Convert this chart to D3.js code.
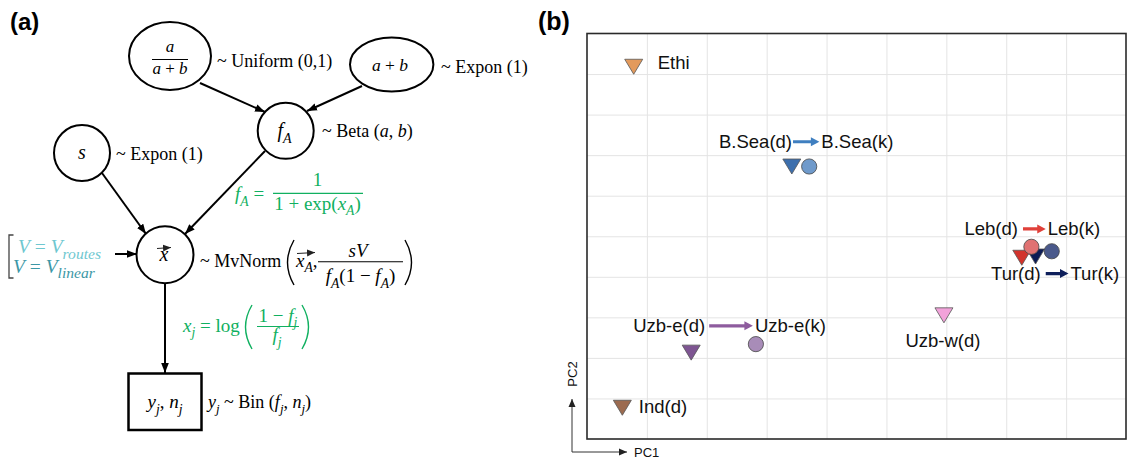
<!DOCTYPE html>
<html><head><meta charset="utf-8">
<script src="https://cdn.jsdelivr.net/npm/d3@7"></script>
<style>
html,body{margin:0;padding:0;background:#fff;}
svg{display:block;}
text{white-space:pre;}
</style></head>
<body>
<svg id="fig" width="1127" height="462"></svg>
<script>
// ---------------- Panel (b) data ----------------
const populations = ["Ethi","Ind(d)","Uzb-e(d)","Uzb-e(k)","B.Sea(d)","B.Sea(k)","Uzb-w(d)","Leb(d)","Tur(d)","Leb(k)","Tur(k)"];
const pc1 = [0.78, 0.59, 1.74, 2.82, 3.42, 3.71, 5.96, 7.26, 7.49, 7.42, 7.76];
const pc2 = [9.18, 0.77, 2.13, 2.34, 6.72, 6.72, 3.05, 4.47, 4.50, 4.74, 4.63];
const sampleType = ["d","d","d","k","d","k","d","d","d","k","k"]; // d = triangle, k = circle
const xTicks = [1,2,3,4,5,6,7,8];
const yTicks = [1,2,3,4,5,6,7,8,9];
// arrows "(d) -> (k)" annotations, in PC units
const pairFrom = ["B.Sea(d)","Uzb-e(d)","Leb(d)","Tur(d)"];
const pairTo   = ["B.Sea(k)","Uzb-e(k)","Leb(k)","Tur(k)"];
const pairX1 = [3.44, 2.04, 7.28, 7.66];
const pairX2 = [3.88, 2.77, 7.66, 8.04];
const pairY  = [7.33, 2.79, 5.18, 4.08];
const singleLabels = ["Ethi","Ind(d)","Uzb-w(d)"];

// styles
const fillColor = {
  "Ethi":"#E39A5C","Ind(d)":"#9C6B50","Uzb-e(d)":"#7E5592","Uzb-e(k)":"#A88CB8",
  "B.Sea(d)":"#3D6FAD","B.Sea(k)":"#6F9ACB","Uzb-w(d)":"#F2A2DA","Leb(d)":"#D2332C",
  "Tur(d)":"#0C1B55","Leb(k)":"#E07272","Tur(k)":"#4A598B"
};
const arrowColor = ["#3F7FC0","#8E5C9E","#E0403A","#0E1F5B"];

// ---------------- Panel (a) content ----------------
const serif = "'Liberation Serif','Times New Roman',serif";
const sans = "'Liberation Sans',Arial,sans-serif";
const green = "#10B060";
const tealLight = "#6EC7D0";
const tealDark = "#3C97A6";

const svg = d3.select("#fig");

// panel labels
svg.append("text").attr("x",10).attr("y",29.5).attr("font-family",sans).attr("font-weight","bold").attr("font-size",24).text("(a)");
svg.append("text").attr("x",538).attr("y",29.5).attr("font-family",sans).attr("font-weight","bold").attr("font-size",25).text("(b)");

// math text helper: parts = [[string, style]], style: r, i, sr, si
function mtext(parent, x, y, parts, opt={}) {
  const size = opt.size || 18;
  const subScale = opt.sub || 0.72;
  const t = parent.append("text").attr("x",x).attr("y",y)
    .attr("font-family",serif).attr("font-size",size)
    .attr("text-anchor",opt.anchor||"start").attr("fill",opt.fill||"#000");
  let shifted = 0;
  parts.forEach(([s, st]) => {
    const ts = t.append("tspan").text(s);
    const sub = st.startsWith("s");
    if (st.endsWith("i")) ts.attr("font-style","italic");
    const target = sub ? size*0.3 : 0;
    if (target !== shifted) { ts.attr("dy", target - shifted); shifted = target; }
    if (sub) ts.attr("font-size", size*subScale);
  });
  return t;
}

const A = svg.append("g");
// markers
const defs = svg.append("defs");
defs.append("marker").attr("id","ah").attr("viewBox","0 -4 10 8").attr("refX",10).attr("refY",0)
  .attr("markerWidth",10).attr("markerHeight",8).attr("markerUnits","userSpaceOnUse").attr("orient","auto")
  .append("path").attr("d","M0,-3.8L10,0L0,3.8Z").attr("fill","#000");
defs.append("marker").attr("id","ahs").attr("viewBox","0 -4 8 8").attr("refX",8).attr("refY",0)
  .attr("markerWidth",8).attr("markerHeight",8).attr("markerUnits","userSpaceOnUse").attr("orient","auto")
  .append("path").attr("d","M0,-3.5L8,0L0,3.5Z").attr("fill","#222");

// edges
const edges = [[200,83,265,112],[362,86,307,111],[102,173,146,234],[265,151,185,234],[115,254,137,254],[165,283,165,373]];
edges.forEach(([x1,y1,x2,y2]) => {
  A.append("line").attr("x1",x1).attr("y1",y1).attr("x2",x2).attr("y2",y2)
    .attr("stroke","#000").attr("stroke-width",2).attr("marker-end","url(#ah)");
});

const nodeStroke = {stroke:"#000","stroke-width":2,fill:"#fff"};
function applyAttrs(sel, o){ Object.entries(o).forEach(([k,v])=>sel.attr(k,v)); return sel; }

// node a/(a+b)
applyAttrs(A.append("ellipse").attr("cx",170).attr("cy",56).attr("rx",41).attr("ry",34), nodeStroke);
mtext(A,170,52,[["a","i"]],{size:17,anchor:"middle"});
A.append("line").attr("x1",152).attr("x2",188).attr("y1",59.5).attr("y2",59.5).attr("stroke","#000").attr("stroke-width",1.1);
mtext(A,170,73.5,[["a","i"],[" + ","r"],["b","i"]],{size:17,anchor:"middle"});
mtext(A,217,67,[["~ Uniform (0,1)","r"]]);

// node a+b
applyAttrs(A.append("ellipse").attr("cx",391.7).attr("cy",64.5).attr("rx",41.7).attr("ry",27), nodeStroke);
mtext(A,390,70.5,[["a","i"],[" + ","r"],["b","i"]],{size:17.5,anchor:"middle"});
mtext(A,441,73,[["~ Expon (1)","r"]]);

// node fA
applyAttrs(A.append("circle").attr("cx",285.7).attr("cy",130.8).attr("r",28), nodeStroke);
mtext(A,284.5,137,[["f","i"],["A","si"]],{size:20,anchor:"middle",sub:0.7});
mtext(A,322,137,[["~ Beta (","r"],["a","i"],[", ","r"],["b","i"],[")","r"]]);

// node s
applyAttrs(A.append("circle").attr("cx",82).attr("cy",153).attr("r",28), nodeStroke);
mtext(A,82,158.5,[["s","i"]],{size:20,anchor:"middle"});
mtext(A,116,160,[["~ Expon (1)","r"]]);

// green formula fA
mtext(A,235,200,[["f","i"],["A","si"],[" =","r"]],{fill:green,size:19});
mtext(A,317.5,186,[["1","r"]],{fill:green,anchor:"middle",size:19});
A.append("line").attr("x1",273).attr("x2",363).attr("y1",193.3).attr("y2",193.3).attr("stroke",green).attr("stroke-width",1.2);
mtext(A,317.5,209.5,[["1 + exp(","r"],["x","i"],["A","si"],[")","r"]],{fill:green,anchor:"middle",size:19});

// node x (vector)
applyAttrs(A.append("circle").attr("cx",165).attr("cy",254.7).attr("r",28.5), nodeStroke);
mtext(A,164,260.5,[["x","i"]],{size:20,anchor:"middle"});
A.append("line").attr("x1",157).attr("y1",248.5).attr("x2",171).attr("y2",247.5)
  .attr("stroke","#222").attr("stroke-width",1).attr("marker-end","url(#ahs)");

// MvNorm label
mtext(A,200,266.5,[["~ MvNorm","r"]]);
A.append("path").attr("d","M294,240 Q281,262.5 294,285").attr("fill","none").attr("stroke","#000").attr("stroke-width",1.4);
mtext(A,296,266.5,[["x","i"],["A","si"],[",","r"]],{size:19});
A.append("line").attr("x1",297).attr("y1",253.5).attr("x2",315).attr("y2",252.5)
  .attr("stroke","#222").attr("stroke-width",1).attr("marker-end","url(#ahs)");
mtext(A,358,256.5,[["sV","i"]],{anchor:"middle",size:19});
A.append("line").attr("x1",318).attr("x2",403).attr("y1",261.7).attr("y2",261.7).attr("stroke","#000").attr("stroke-width",1.1);
mtext(A,360.5,282,[["f","i"],["A","si"],["(1 − ","r"],["f","i"],["A","si"],[")","r"]],{anchor:"middle",size:19});
A.append("path").attr("d","M405,240 Q418,262.5 405,285").attr("fill","none").attr("stroke","#000").attr("stroke-width",1.4);

// bracket V options
A.append("path").attr("d","M13.5,235 L9,235 L9,278 L13.5,278").attr("fill","none").attr("stroke","#444").attr("stroke-width",1.3);
mtext(A,18,253,[["V","i"],[" = ","r"],["V","i"],["routes","si"]],{fill:tealLight,size:19.5,sub:0.8});
mtext(A,13,272.5,[["V","i"],[" = ","r"],["V","i"],["linear","si"]],{fill:tealDark,size:19.5,sub:0.8});

// green formula xj
mtext(A,183,331.5,[["x","i"],["j","si"],[" = log","r"]],{fill:green,size:19});
A.append("path").attr("d","M252,305 Q239,327 252,349").attr("fill","none").attr("stroke",green).attr("stroke-width",1.4);
mtext(A,278,321.5,[["1 − ","r"],["f","i"],["j","si"]],{fill:green,anchor:"middle",size:19});
A.append("line").attr("x1",257).attr("x2",299).attr("y1",326.5).attr("y2",326.5).attr("stroke",green).attr("stroke-width",1.2);
mtext(A,277,341,[["f","i"],["j","si"]],{fill:green,anchor:"middle",size:19});
A.append("path").attr("d","M302,305 Q315,327 302,349").attr("fill","none").attr("stroke",green).attr("stroke-width",1.4);

// observed node
A.append("rect").attr("x",128.5).attr("y",373.5).attr("width",73).attr("height",56.5)
  .attr("fill","#fff").attr("stroke","#000").attr("stroke-width",2.5);
mtext(A,165,408,[["y","i"],["j","si"],[", ","r"],["n","i"],["j","si"]],{anchor:"middle",size:19});
mtext(A,208,408,[["y","i"],["j","si"],[" ~ Bin (","r"],["f","i"],["j","si"],[", ","r"],["n","i"],["j","si"],[")","r"]]);

// ---------------- Panel (b) ----------------
const x = d3.scaleLinear().domain([0,9]).range([587,1126]);
const y = d3.scaleLinear().domain([0,10]).range([439,33.5]);
const B = svg.append("g");

const gx = B.append("g").attr("transform",`translate(0,${y(0)})`)
  .call(d3.axisBottom(x).tickValues(xTicks).tickSize(-(y(0)-y(10))).tickFormat(""));
const gy = B.append("g").attr("transform",`translate(${x(0)},0)`)
  .call(d3.axisLeft(y).tickValues(yTicks).tickSize(-(x(9)-x(0))).tickFormat(""));
[gx,gy].forEach(g => { g.select(".domain").remove(); g.selectAll(".tick line").attr("stroke","#e4e4e4").attr("stroke-width",1); });

B.append("rect").attr("x",x(0)).attr("y",y(10)).attr("width",x(9)-x(0)).attr("height",y(0)-y(10))
  .attr("fill","none").attr("stroke","#2a2a2a").attr("stroke-width",1.6);

const pts = populations.map((p,i)=>({name:p, pc1:pc1[i], pc2:pc2[i], type:sampleType[i]}));
const tri = "M-9,-7.5L9,-7.5L0,7.5Z";
B.selectAll("path.tri").data(pts.filter(d=>d.type==="d")).join("path").attr("class","tri")
  .attr("d",tri).attr("transform",d=>`translate(${x(d.pc1)},${y(d.pc2)})`)
  .attr("fill",d=>fillColor[d.name]).attr("stroke","#555").attr("stroke-width",0.8);
B.selectAll("circle.pt").data(pts.filter(d=>d.type==="k")).join("circle").attr("class","pt")
  .attr("cx",d=>x(d.pc1)).attr("cy",d=>y(d.pc2)).attr("r",7.6)
  .attr("fill",d=>fillColor[d.name]).attr("stroke","#444").attr("stroke-width",0.8);

// arrow annotations
function fatArrow(x1,x2,yy,col){
  const hl=8.5, hw=4.5, sw=1.6;
  B.append("path").attr("d",`M${x1},${yy-sw}L${x2-hl},${yy-sw}L${x2-hl},${yy-hw}L${x2},${yy}L${x2-hl},${yy+hw}L${x2-hl},${yy+sw}L${x1},${yy+sw}Z`)
    .attr("fill",col);
}
const gapL = [1,4,5,5];
pairFrom.forEach((f,i)=>{
  const ax1=x(pairX1[i]), ax2=x(pairX2[i]), ay=y(pairY[i]);
  fatArrow(ax1,ax2,ay,arrowColor[i]);
  B.append("text").attr("x",ax1-gapL[i]).attr("y",ay+6.5).attr("text-anchor","end")
    .attr("font-family",sans).attr("font-size",18.5).attr("fill","#111").text(f);
  B.append("text").attr("x",ax2+2).attr("y",ay+6.5)
    .attr("font-family",sans).attr("font-size",18.5).attr("fill","#111").text(pairTo[i]);
});
// single labels
const single = pts.filter(d=>singleLabels.includes(d.name));
single.forEach(d=>{
  const px=x(d.pc1), py=y(d.pc2);
  const t = B.append("text").attr("font-family",sans).attr("font-size",18.5).attr("fill","#111").text(d.name);
  if (d.name==="Uzb-w(d)") t.attr("x",px-1).attr("y",py+32).attr("text-anchor","middle");
  else if (d.name==="Ethi") t.attr("x",px+24).attr("y",py+2);
  else t.attr("x",px+16.5).attr("y",py+5.5);
});

// PC axes indicator
B.append("line").attr("x1",572).attr("y1",452).attr("x2",572).attr("y2",399).attr("stroke","#333").attr("stroke-width",1).attr("marker-end","url(#ahs)");
B.append("line").attr("x1",572).attr("y1",452).attr("x2",627).attr("y2",452).attr("stroke","#333").attr("stroke-width",1).attr("marker-end","url(#ahs)");
B.append("text").attr("x",634).attr("y",456.7).attr("font-family",sans).attr("font-size",13).attr("fill","#111").text("PC1");
B.append("text").attr("transform","translate(576.5,374) rotate(-90)").attr("text-anchor","middle")
  .attr("font-family",sans).attr("font-size",13).attr("fill","#111").text("PC2");
</script>
</body></html>
